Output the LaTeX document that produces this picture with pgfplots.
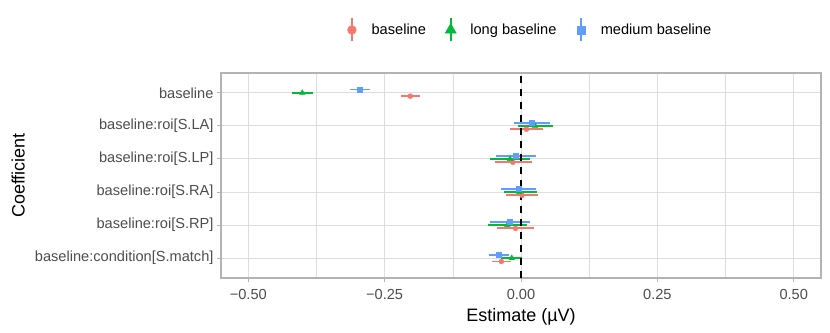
\documentclass[border=0pt]{standalone}
\usepackage{fontspec}
\setmainfont{Liberation Sans}
\usepackage{pgfplots}
\usepackage{pgfplotstable}
\pgfplotsset{compat=1.18}

\definecolor{cBase}{HTML}{F8766D}
\definecolor{cLong}{HTML}{00BA38}
\definecolor{cMed}{HTML}{619CFF}
\definecolor{gridcol}{HTML}{DEDEDE}
\definecolor{framecol}{HTML}{B3B3B3}
\definecolor{tickcol}{HTML}{4D4D4D}

% row: 6 = baseline (top) ... 1 = condition[S.match]
\pgfplotstableread{
row est em ep
6 -0.203 0.017 0.017
5  0.010 0.031 0.031
4 -0.015 0.033 0.035
3  0.002 0.029 0.030
2 -0.010 0.034 0.034
1 -0.036 0.017 0.017
}\tabBase
\pgfplotstableread{
row est em ep
6 -0.401 0.018 0.019
5  0.026 0.032 0.032
4 -0.020 0.036 0.037
3 -0.003 0.029 0.033
2 -0.025 0.035 0.036
1 -0.017 0.019 0.019
}\tabLong
\pgfplotstableread{
row est em ep
6 -0.295 0.019 0.019
5  0.019 0.032 0.034
4 -0.009 0.036 0.037
3 -0.005 0.032 0.032
2 -0.020 0.036 0.036
1 -0.041 0.018 0.019
}\tabMed

\pgfplotsset{
  keyimg/.style 2 args={legend image code/.code={
    \path (-8.5bp,0bp) (8.5bp,0bp);
    \draw[##1, mark=none, line width=1.9bp] (0bp,-11.5bp) -- (0bp,11.5bp);
    \draw[##1, mark=#1, mark size=#2] plot coordinates {(0bp,0bp)};
  }},
}

\begin{document}
\begin{tikzpicture}
\path[use as bounding box] (0bp,0bp) rectangle (830bp,333bp);
\begin{axis}[
  at={(221bp,55bp)}, anchor=south west,
  scale only axis, width=600bp, height=205bp,
  xmin=-0.55, xmax=0.55, ymin=0.4, ymax=6.6,
  xtick={-0.5,-0.25,0,0.25,0.5},
  xticklabels={−0.50,−0.25,0.00,0.25,0.50},
  minor xtick={-0.375,-0.125,0.125,0.375},
  ytick={1,2,3,4,5,6},
  yticklabels={baseline:condition[S.match],baseline:roi[S.RP],baseline:roi[S.RA],baseline:roi[S.LP],baseline:roi[S.LA],baseline},
  xmajorgrids, xminorgrids, ymajorgrids,
  major grid style={gridcol, line width=0.95bp},
  minor grid style={gridcol, line width=0.5bp},
  axis line style={framecol, line width=1.3bp},
  tick align=outside, major tick length=4bp, minor tick length=0pt,
  tick style={framecol, line width=0.95bp},
  xtick pos=left, ytick pos=left,
  ticklabel style={font=\fontsize{14.6bp}{17bp}\selectfont, text=tickcol},
  xticklabel style={yshift=-4bp},
  xlabel={Estimate (µV)}, ylabel={Coefficient},
  label style={font=\fontsize{18bp}{21bp}\selectfont},
  xlabel style={at={(axis description cs:0.5,-0.19)}, anchor=center},
  ylabel style={at={(axis description cs:-0.338,0.5)}, anchor=center},
  legend style={at={(axis description cs:0.512,1.21)}, anchor=center,
    draw=none, fill=none, legend columns=3,
    font=\fontsize{14.6bp}{17bp}\selectfont,
    /tikz/every odd column/.append style={column sep=9bp},
    /tikz/every even column/.append style={column sep=14bp}},
  legend cell align=left,
  error bars/error mark=none,
  error bars/error bar style={line width=1.9bp},
]
\addplot[cBase, only marks, mark=*, mark size=2.5bp, keyimg={*}{4.4bp},
  error bars/.cd, x dir=both, x explicit]
  table[x=est, y expr=\thisrow{row}-0.1, x error minus=em, x error plus=ep] {\tabBase};
\addlegendentry{baseline}
\addplot[cLong, only marks, mark=triangle*, mark size=3.2bp, keyimg={triangle*}{6.5bp},
  error bars/.cd, x dir=both, x explicit]
  table[x=est, y=row, x error minus=em, x error plus=ep] {\tabLong};
\addlegendentry{long baseline}
\addplot[cMed, only marks, mark=square*, mark size=2.5bp, keyimg={square*}{4.2bp},
  error bars/.cd, x dir=both, x explicit]
  table[x=est, y expr=\thisrow{row}+0.1, x error minus=em, x error plus=ep] {\tabMed};
\addlegendentry{medium baseline}
\addplot[black, line width=1.9bp, dash pattern=on 6.5bp off 6.5bp, forget plot]
  coordinates {(0,0.4) (0,6.6)};
\end{axis}
\end{tikzpicture}
\end{document}
